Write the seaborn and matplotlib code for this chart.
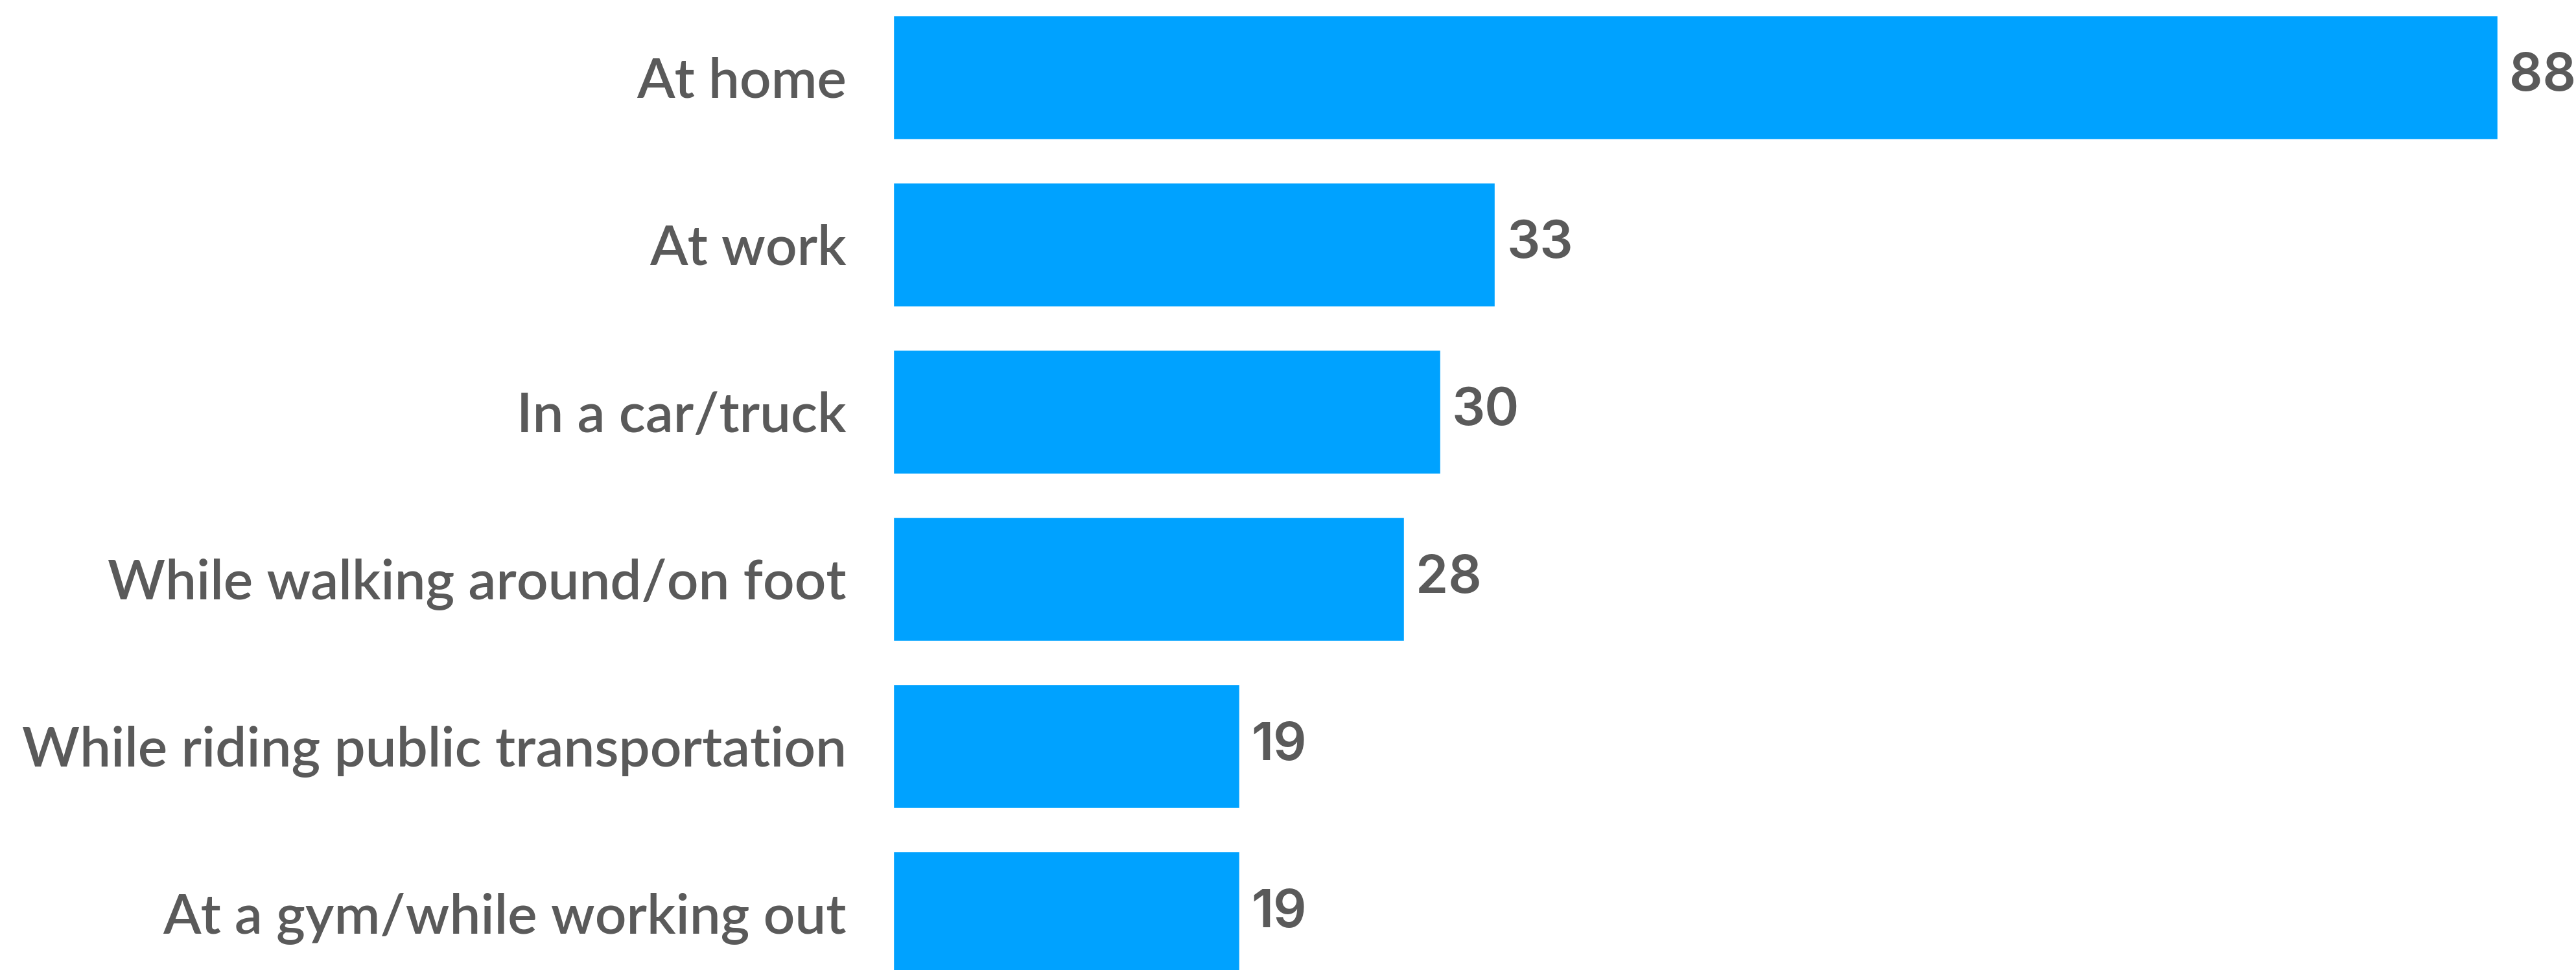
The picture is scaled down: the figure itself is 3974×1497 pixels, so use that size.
import matplotlib
matplotlib.use("Agg")
import matplotlib.pyplot as plt
import seaborn as sns
import pandas as pd

categories = [
    "At home",
    "At work",
    "In a car/truck",
    "While walking around/on foot",
    "While riding public transportation",
    "At a gym/while working out",
]
values = [88, 33, 30, 28, 19, 19]

BAR_COLOR = "#00A2FF"
TEXT_COLOR = "#5A5A5A"

sns.set_theme(style="white")
plt.rcParams["font.family"] = ["Lato", "DejaVu Sans"]

W, H, DPI = 3974, 1497, 100
fig = plt.figure(figsize=(W / DPI, H / DPI), dpi=DPI)
ax = fig.add_axes([1378 / W, 0.0, 1 - 1378 / W, 1.0])

df = pd.DataFrame({"place": categories, "share": values})
sns.barplot(data=df, x="share", y="place", orient="h", color=BAR_COLOR,
            saturation=1, width=0.74, ax=ax)

ax.set_xlim(0, 92.3)
ax.set_ylim(5.339, -0.463)
ax.set_xlabel("")
ax.set_ylabel("")
ax.set_xticks([])
for s in ax.spines.values():
    s.set_visible(False)

ax.tick_params(axis="y", length=0, pad=52)
for lbl in ax.get_yticklabels():
    lbl.set_fontsize(61.5)
    lbl.set_color(TEXT_COLOR)
    lbl.set_fontweight("semibold")

for cont in ax.containers:
    ax.bar_label(cont, labels=[str(v) for v in values], padding=13,
                 fontsize=58, color=TEXT_COLOR, fontweight="semibold",
                 family=["Inter", "DejaVu Sans"])
    for t in ax.texts:
        t.set_va("center")

fig.savefig("out.png", dpi=DPI, facecolor="white")
